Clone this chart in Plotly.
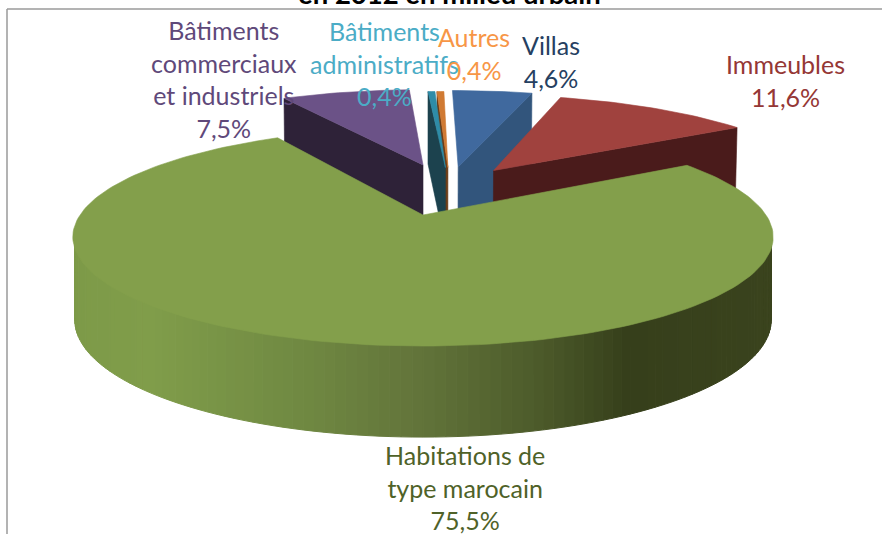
import math
import plotly.graph_objects as go

# ---- data ----
categories = ["Villas", "Immeubles", "Habitations de type marocain",
              "Bâtiments commerciaux et industriels", "Bâtiments administratifs", "Autres"]
values = [4.6, 11.6, 75.5, 7.5, 0.4, 0.4]
value_labels = ["4,6%", "11,6%", "75,5%", "7,5%", "0,4%", "0,4%"]
title_text = "en 2012 en milieu urbain"

# ---- style and layout ----
top_colors = ["#40699e", "#a0423e", "#839f4b", "#6b5287", "#2e8ca8", "#d07a33"]
wall_colors = ["#32557c", "#4a1b1b", None, "#2e2238", "#1c424e", "#6b3d18"]
text_colors = ["#254061", "#953735", "#4f6228", "#5f497a", "#4bacc6", "#f79646"]
explode_x = [0.113, 0.225, 0.0, 0.0, 0.072, 0.08]
explode_y = [0.506, 0.465, 0.0, 0.53, 0.5, 0.5]
slice_radius = [1.06, 1.03, 1.0, 1.05, 1.05, 1.05]
wall_edge = ["end", "end", None, "start", "start", "start"]
draw_order = [0, 5, 4, 3, 1, 2]
label_text = ["Villas<br>", "Immeubles<br>", "Habitations de<br>type marocain<br>",
              "Bâtiments<br>commerciaux<br>et industriels<br>", "Bâtiments<br>administratifs<br>", "Autres<br>"]
label_x = [551, 785, 465, 224, 384, 474]
label_y = [61, 80, 487, 79, 63, 53]

CX = 423
TOP = dict(a=343.0, b=104.6, cy=215.0, k=0.2018)
BOT = dict(a=341.0, b=112.3, cy=296.4, k=0.2018)


def project(x, y, p):
    d = 1 + p["k"] * y
    return CX + p["a"] * x / d, p["cy"] - p["b"] * y / d


def disc(angle_deg):
    t = math.radians(angle_deg)
    return math.sin(t), math.cos(t)


def lerp_color(stops, pos):
    for (p0, c0), (p1, c1) in zip(stops, stops[1:]):
        if pos <= p1:
            f = max(0.0, (pos - p0) / (p1 - p0))
            return "rgb(%d,%d,%d)" % tuple(round(c0[i] + (c1[i] - c0[i]) * f) for i in range(3))
    return "rgb(%d,%d,%d)" % stops[-1][1]


side_stops = [(72, (125, 154, 72)), (150, (128, 157, 74)), (300, (112, 137, 66)),
              (420, (98, 116, 58)), (540, (76, 90, 42)), (625, (54, 63, 27)), (775, (58, 67, 29))]

fig = go.Figure()


def poly(xs, ys, color, name, line=0.6):
    fig.add_trace(go.Scatter(x=xs, y=ys, mode="lines", fill="toself", fillcolor=color,
                             line=dict(color=color, width=line), name=name,
                             hoverinfo="name", showlegend=False))


edges = [0.0]
total = sum(values)
for v in values:
    edges.append(edges[-1] + v / total * 360)

for i in draw_order:
    a0, a1 = edges[i], edges[i + 1]
    ox, oy, rad = explode_x[i], explode_y[i], slice_radius[i]
    steps = max(2, int((a1 - a0) / 1.5))
    angles = [a0 + (a1 - a0) * s / steps for s in range(steps + 1)]

    if wall_edge[i]:
        ang = a1 if wall_edge[i] == "end" else a0
        rx, ry = disc(ang)
        pts = [project(ox, oy, TOP), project(ox + rad * rx, oy + rad * ry, TOP),
               project(ox + rad * rx, oy + rad * ry, BOT), project(ox, oy, BOT)]
        poly([p[0] for p in pts] + [pts[0][0]], [p[1] for p in pts] + [pts[0][1]],
             wall_colors[i], categories[i])

    if wall_colors[i] is None:
        # outer rim of the big slice, shaded from left to right; top edge tucked under the top face
        front = [a for a in angles if 100 <= a <= 260]
        for a, b in zip(front, front[1:]):
            xa, ya = disc(a)
            xb, yb = disc(b)
            pts = [project(xa * 0.995, ya * 0.995, TOP), project(xb * 0.995, yb * 0.995, TOP),
                   project(xb, yb, BOT), project(xa, ya, BOT)]
            mid = sum(p[0] for p in pts) / 4
            poly([p[0] for p in pts] + [pts[0][0]], [p[1] for p in pts] + [pts[0][1]],
                 lerp_color(side_stops, mid), categories[i], line=1)

    pts = [project(ox, oy, TOP)]
    for a in angles:
        x, y = disc(a)
        pts.append(project(ox + rad * x, oy + rad * y, TOP))
    pts.append(pts[0])
    poly([p[0] for p in pts], [p[1] for p in pts], top_colors[i], categories[i])

annotations = [dict(x=0.51, y=1.012, xref="paper", yref="paper", text="<b>" + title_text + "</b>",
                    showarrow=False, yanchor="middle",
                    font=dict(family="Lato", size=27.5, color="#000000"))]
for i in range(len(categories)):
    annotations.append(dict(x=label_x[i], y=label_y[i], xref="x", yref="y",
                            text=label_text[i] + value_labels[i], showarrow=False,
                            align="center", font=dict(family="Lato", size=25, color=text_colors[i])))

frame = dict(color="#9a9a9a", width=1.5)
fig.update_layout(
    width=882, height=534, margin=dict(l=0, r=0, t=0, b=0),
    paper_bgcolor="white", plot_bgcolor="white", showlegend=False,
    xaxis=dict(range=[0, 882], visible=False, fixedrange=True),
    yaxis=dict(range=[534, 0], visible=False, fixedrange=True),
    annotations=annotations,
    shapes=[dict(type="line", x0=7, x1=7, y0=9, y1=534, xref="x", yref="y", line=frame),
            dict(type="line", x0=7, x1=882, y0=9, y1=9, xref="x", yref="y", line=frame)],
)
fig.write_html("out.html", config=dict(displayModeBar=False),
               post_script="document.body.style.margin='0';document.body.style.overflow='hidden';")
